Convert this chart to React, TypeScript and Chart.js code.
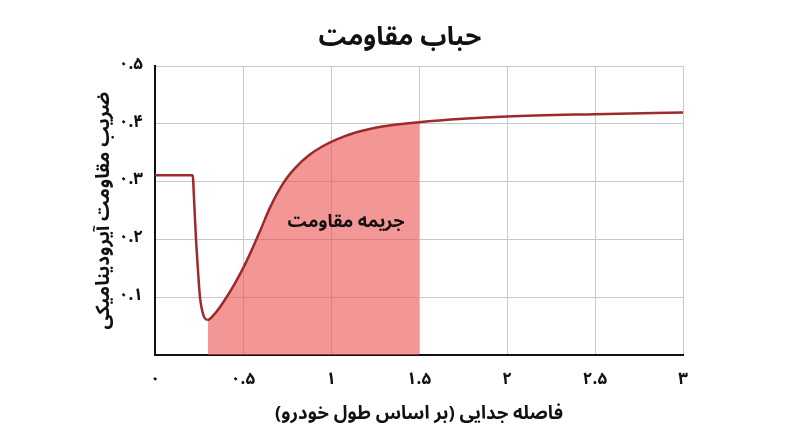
import { useEffect, useRef } from 'react';
import { Chart, registerables } from 'chart.js';

Chart.register(...registerables);

const chartTitle = 'حباب مقاومت';
const xAxisTitle = 'فاصله جدایی (بر اساس طول خودرو)';
const yAxisTitle = 'ضریب مقاومت آیرودینامیکی';
const regionLabel = 'جریمه مقاومت';

const xValues = [0, 0.1, 0.214, 0.223, 0.233, 0.245, 0.256, 0.275, 0.3, 0.33, 0.36, 0.4, 0.45, 0.5, 0.55, 0.6, 0.65, 0.7, 0.75, 0.8, 0.88, 0.95, 1.03, 1.15, 1.3, 1.5, 1.75, 2, 2.5, 3];
const yValues = [0.311, 0.311, 0.311, 0.262, 0.2, 0.142, 0.099, 0.069, 0.061, 0.068, 0.079, 0.097, 0.122, 0.15, 0.182, 0.217, 0.253, 0.283, 0.307, 0.325, 0.347, 0.361, 0.373, 0.386, 0.396, 0.403, 0.409, 0.413, 0.417, 0.42];

const xTickLabels = ['۰', '۰.۵', '۱', '۱.۵', '۲', '۲.۵', '۳'];
const yTickLabels = ['', '۰.۱', '۰.۲', '۰.۳', '۰.۴', '۰.۵'];

const fillStart = 0.3;
const fillEnd = 1.5;
const regionLabelX = 1.085;
const regionLabelY = 0.226;

const FONT = "'Noto Sans Arabic', 'DejaVu Sans', sans-serif";
const RLM = '\u200F';
const LINE_COLOR = '#A02A2A';
const FILL_COLOR = 'rgba(235, 80, 80, 0.6)';

const regionLabelPlugin = {
  id: 'regionLabel',
  afterDatasetsDraw(chart: any) {
    const { ctx, scales } = chart;
    const x = scales.x.getPixelForValue(regionLabelX);
    const y = scales.y.getPixelForValue(regionLabelY);
    ctx.save();
    ctx.font = `bold 18px ${FONT}`;
    ctx.fillStyle = '#111';
    ctx.textAlign = 'center';
    ctx.textBaseline = 'middle';
    ctx.fillText(RLM + regionLabel + RLM, x, y);
    ctx.restore();
  },
};

export default function App() {
  const ref = useRef<HTMLCanvasElement | null>(null);

  useEffect(() => {
    if (!ref.current) return;
    const data = xValues.map((x, i) => ({ x, y: yValues[i] }));
    const chart = new Chart(ref.current, {
      type: 'line',
      data: {
        datasets: [
          {
            data,
            borderColor: LINE_COLOR,
            borderWidth: 2.5,
            pointRadius: 0,
            cubicInterpolationMode: 'monotone',
            fill: 'origin',
            backgroundColor: 'rgba(0,0,0,0)',
            segment: {
              backgroundColor: (c: any) =>
                c.p0.parsed.x >= fillStart - 1e-9 && c.p1.parsed.x <= fillEnd + 1e-9
                  ? FILL_COLOR
                  : 'rgba(0,0,0,0)',
            },
          } as any,
        ],
      },
      options: {
        animation: false,
        responsive: true,
        maintainAspectRatio: false,
        layout: { padding: 0 },
        plugins: {
          legend: { display: false },
          tooltip: { enabled: false },
          title: {
            display: true,
            text: RLM + chartTitle + RLM,
            color: '#111',
            font: { family: FONT, size: 26, weight: 'bold' },
            padding: { top: 25, bottom: 10 },
          },
        },
        scales: {
          x: {
            type: 'linear',
            min: 0,
            max: 3,
            afterFit: (s: any) => {
              s.height = 92;
            },
            ticks: {
              stepSize: 0.5,
              padding: 16,
              color: '#111',
              font: { family: FONT, size: 17, weight: 'bold' },
              callback: (v: any) => xTickLabels[Math.round(Number(v) * 2)] ?? '',
            },
            grid: { color: '#c8c8c8', lineWidth: 1, drawTicks: false },
            border: { color: '#111', width: 2 },
            title: {
              display: true,
              text: RLM + xAxisTitle + RLM,
              color: '#111',
              font: { family: FONT, size: 18.5, weight: 'bold' },
              padding: { top: 4, bottom: 20 },
            },
          },
          y: {
            type: 'linear',
            min: 0,
            max: 0.5,
            afterFit: (s: any) => {
              s.width = 155;
            },
            ticks: {
              stepSize: 0.1,
              padding: 12,
              color: '#111',
              font: { family: FONT, size: 17, weight: 'bold' },
              callback: (v: any) => yTickLabels[Math.round(Number(v) * 10)] ?? '',
            },
            grid: { color: '#c8c8c8', lineWidth: 1, drawTicks: false },
            border: { color: '#111', width: 2 },
            title: {
              display: true,
              text: RLM + yAxisTitle + RLM,
              color: '#111',
              font: { family: FONT, size: 19, weight: 'bold' },
              padding: { top: 95, bottom: 4 },
            },
          },
          yRight: {
            type: 'linear',
            position: 'right',
            display: true,
            afterFit: (s: any) => {
              s.width = 117;
            },
            ticks: { display: false },
            grid: { display: false, drawTicks: false },
            border: { display: false },
          },
        },
      },
      plugins: [regionLabelPlugin],
    });
    return () => chart.destroy();
  }, []);

  return (
    <div style={{ position: 'fixed', left: 0, top: 0, width: 800, height: 447, background: '#fff' }}>
      <canvas ref={ref} />
    </div>
  );
}
